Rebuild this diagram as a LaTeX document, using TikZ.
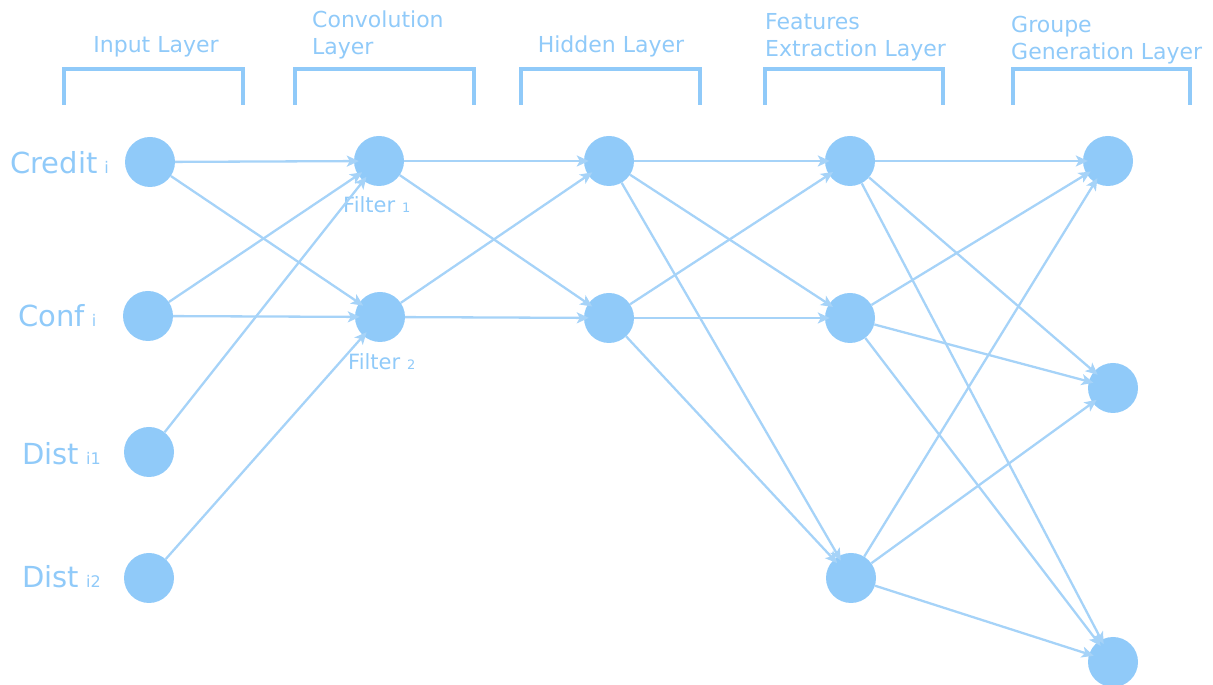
\documentclass[tikz,border=0pt]{standalone}
\usepackage{fontspec}
\setmainfont{DejaVu Sans}
\usetikzlibrary{arrows.meta}
\definecolor{nodeblue}{HTML}{90CAF9}
\definecolor{edgeblue}{HTML}{A6D3F8}
\definecolor{textblue}{HTML}{90CAF9}
\tikzset{
  neuron/.style={circle, fill=nodeblue, minimum size=50pt, inner sep=0pt},
  link/.style={draw=edgeblue, line width=2.3pt, shorten >=-5pt,
    -{Stealth[length=12pt, width=11pt, inset=3pt]}},
  bracket/.style={draw=nodeblue, line width=3.6pt},
  header/.style={text=textblue, inner sep=0pt, align=left,
    font=\fontsize{22}{27}\selectfont},
  inlabel/.style={text=textblue, inner sep=0pt, anchor=base west,
    font=\fontsize{29}{32}\selectfont},
  filterlabel/.style={text=textblue, inner sep=0pt, anchor=base west,
    font=\fontsize{21}{24}\selectfont}
}
\newcommand{\bigsub}[1]{\hspace{7pt}{\fontsize{16}{16}\selectfont #1}}
\newcommand{\smallsub}[1]{\hspace{7pt}{\fontsize{13}{13}\selectfont #1}}
\begin{document}
\begin{tikzpicture}[x=1pt, y=1pt]
\useasboundingbox (0,0) rectangle (1213,685);

% layer brackets
\draw[bracket] (64,580) -- (64,616) -- (243,616) -- (243,580);
\draw[bracket] (295,580) -- (295,616) -- (474,616) -- (474,580);
\draw[bracket] (521,580) -- (521,616) -- (700,616) -- (700,580);
\draw[bracket] (765,580) -- (765,616) -- (943,616) -- (943,580);
\draw[bracket] (1013,580) -- (1013,616) -- (1190,616) -- (1190,580);

% layer titles (base anchor sits on the last line)
\node[header, anchor=base] (tin) at (156,632) {Input Layer};
\node[header, anchor=base west] (tconv) at (312,630) {Convolution\\Layer};
\node[header, anchor=base] (thid) at (611,632) {Hidden Layer};
\node[header, anchor=base west] (tfeat) at (765,628) {Features\\Extraction Layer};
\node[header, anchor=base west] (tgrp) at (1011,625) {Groupe\\Generation Layer};

% neurons
\node[neuron] (credit) at (150,523) {};
\node[neuron] (conf)   at (148,369) {};
\node[neuron] (dista)  at (149,233) {};
\node[neuron] (distb)  at (149,107) {};

\node[neuron] (fa) at (379,524) {};
\node[neuron] (fb) at (380,368) {};

\node[neuron] (ha) at (609,524) {};
\node[neuron] (hb) at (609,367) {};

\node[neuron] (ea) at (850,524) {};
\node[neuron] (eb) at (850,367) {};
\node[neuron] (ec) at (851,107) {};

\node[neuron] (ga) at (1108,524) {};
\node[neuron] (gb) at (1113,297) {};
\node[neuron] (gc) at (1113,23) {};

% input labels
\node[inlabel] (lcredit) at (10,511) {Credit\bigsub{i}};
\node[inlabel] (lconf)   at (18,358) {Conf\bigsub{i}};
\node[inlabel] (ldista)  at (22,220) {Dist\bigsub{i1}};
\node[inlabel] (ldistb)  at (22,97)  {Dist\bigsub{i2}};

% filter labels
\node[filterlabel] (lfa) at (343,472) {Filter\smallsub{1}};
\node[filterlabel] (lfb) at (348,315) {Filter\smallsub{2}};

% input -> convolution
\draw[link] (credit) -- (fa);
\draw[link] (credit) -- (fb);
\draw[link] (conf) -- (fa);
\draw[link] (conf) -- (fb);
\draw[link] (dista) -- (fa);
\draw[link] (distb) -- (fb);

% convolution -> hidden
\foreach \s in {fa,fb}
  \foreach \t in {ha,hb}
    \draw[link] (\s) -- (\t);

% hidden -> features
\foreach \s in {ha,hb}
  \foreach \t in {ea,eb,ec}
    \draw[link] (\s) -- (\t);

% features -> groups
\foreach \s in {ea,eb,ec}
  \foreach \t in {ga,gb,gc}
    \draw[link] (\s) -- (\t);
\end{tikzpicture}
\end{document}
